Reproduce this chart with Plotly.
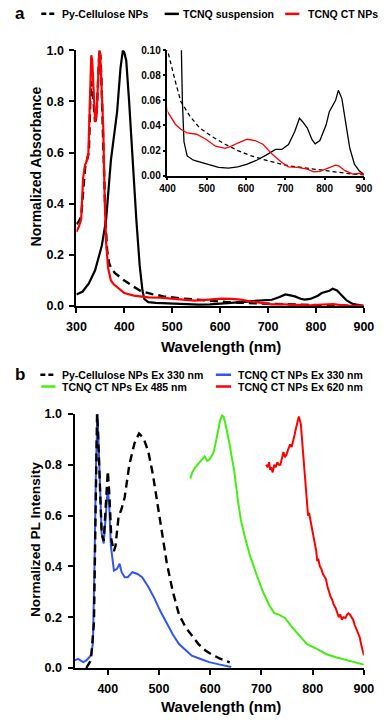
import plotly.graph_objects as go

W, H = 390, 723

# ---- panel a: absorbance ----
py_cell_wl = [300, 305, 310, 314, 318, 322, 326, 329, 331, 333, 336, 339, 342, 345, 348, 350,
              352, 355, 358, 361, 364, 368, 372, 380, 390, 400, 420, 434, 458, 482, 514, 547,
              579, 611, 643, 676, 708, 740, 772, 804, 836, 869, 893, 900]
py_cell_abs = [0.32, 0.33, 0.35, 0.45, 0.54, 0.57, 0.60, 0.80, 0.88, 0.86, 0.77, 0.72, 0.74, 0.90, 1.00, 0.98,
               0.90, 0.70, 0.50, 0.32, 0.22, 0.17, 0.15, 0.13, 0.115, 0.100, 0.075, 0.059, 0.047, 0.038, 0.031, 0.025,
               0.020, 0.016, 0.013, 0.0105, 0.0078, 0.0066, 0.0052, 0.0039, 0.0027, 0.0013, 0.0008, 0.0005]

tcnq_wl = [300, 313, 326, 339, 353, 362, 372, 379, 385, 392, 397, 400, 404, 410, 418, 425,
           432, 436, 438, 442, 450, 466, 498, 530, 555, 579, 603, 627, 651, 667, 675, 691,
           708, 724, 736, 744, 756, 768, 776, 788, 804, 812, 828, 835, 844, 852, 864, 876, 888, 899]
tcnq_abs = [0.045, 0.057, 0.089, 0.14, 0.236, 0.338, 0.57, 0.68, 0.76, 0.93, 1.00, 0.99, 0.96, 0.80, 0.54, 0.34,
            0.16, 0.09, 0.059, 0.027, 0.0157, 0.0123, 0.0092, 0.0066, 0.006, 0.007, 0.0092, 0.0123, 0.0164, 0.0196, 0.0209, 0.0209,
            0.0248, 0.0352, 0.0457, 0.043, 0.0379, 0.0287, 0.0254, 0.028, 0.0405, 0.051, 0.060, 0.068, 0.0614, 0.0457, 0.0222, 0.0092, 0.0039, 0.0013]

ct_wl = [300, 305, 310, 314, 318, 322, 325, 328, 331, 333, 336, 339, 342, 345, 348, 350,
         353, 356, 359, 362, 366, 369, 372, 378, 389, 400, 420, 434, 450, 474, 498, 522,
         547, 563, 579, 603, 623, 643, 667, 691, 708, 732, 756, 772, 788, 804, 828, 836,
         852, 872, 892, 900]
ct_abs = [0.29, 0.31, 0.34, 0.50, 0.55, 0.57, 0.60, 0.85, 0.98, 0.96, 0.80, 0.72, 0.74, 0.90, 1.00, 0.97,
          0.85, 0.70, 0.42, 0.25, 0.15, 0.12, 0.10, 0.085, 0.068, 0.051, 0.041, 0.037, 0.034, 0.033, 0.029, 0.0235,
          0.0217, 0.0235, 0.026, 0.029, 0.028, 0.025, 0.017, 0.0105, 0.007, 0.0066, 0.0052, 0.0031, 0.0034, 0.0052, 0.0084, 0.0078,
          0.004, 0.0013, 0.0019, 0.0008]

# ---- panel b: photoluminescence ----
pl_py_wl = [358, 367, 373, 376, 379, 381, 384, 388, 392, 397, 400, 403, 407, 412, 415, 421,
            427, 433, 442, 452, 461, 470, 479, 488, 497, 506, 515, 527, 539, 552, 564, 577,
            590, 603, 618, 632, 638]
pl_py = [0.0, 0.03, 0.18, 0.6, 1.0, 0.92, 0.76, 0.53, 0.50, 0.70, 0.775, 0.685, 0.505, 0.46, 0.48, 0.595,
         0.627, 0.672, 0.80, 0.884, 0.923, 0.904, 0.852, 0.762, 0.647, 0.53, 0.415, 0.30, 0.21, 0.16, 0.13, 0.094,
         0.07, 0.053, 0.038, 0.026, 0.022]

pl_330_wl = [335, 342, 348, 352, 358, 364, 368, 371, 374, 377, 380, 382, 384, 388, 392, 397,
             400, 403, 406, 412, 418, 423, 427, 433, 439, 448, 458, 467, 479, 491, 503, 515,
             527, 539, 552, 564, 580, 598, 617, 630, 641]
pl_330 = [0.03, 0.036, 0.028, 0.023, 0.03, 0.042, 0.055, 0.1, 0.4, 0.8, 1.0, 0.9, 0.76, 0.53, 0.49, 0.63,
          0.71, 0.63, 0.48, 0.383, 0.39, 0.41, 0.377, 0.357, 0.357, 0.377, 0.37, 0.357, 0.32, 0.274, 0.222, 0.177,
          0.132, 0.094, 0.068, 0.048, 0.036, 0.023, 0.014, 0.008, 0.004]

pl_485_wl = [561, 565, 570, 575, 580, 585, 589, 594, 598, 603, 607, 612, 617, 620, 623, 626,
             629, 633, 638, 642, 647, 654, 660, 669, 678, 691, 703, 715, 725, 734, 746, 758,
             774, 789, 808, 826, 845, 864, 882, 900]
pl_485 = [0.745, 0.77, 0.788, 0.80, 0.81, 0.82, 0.833, 0.815, 0.82, 0.835, 0.852, 0.90, 0.955, 0.98, 0.994, 0.99,
          0.968, 0.93, 0.878, 0.83, 0.775, 0.66, 0.58, 0.505, 0.44, 0.364, 0.30, 0.248, 0.216, 0.21, 0.197, 0.165,
          0.126, 0.094, 0.075, 0.055, 0.042, 0.032, 0.023, 0.013]

pl_620_wl = [709, 712, 715, 717, 719, 722, 725, 728, 731, 734, 737, 740, 743, 746, 749, 752,
             756, 759, 762, 765, 767, 770, 773, 775, 777, 780, 782, 784, 786, 789, 791, 793,
             796, 798, 801, 804, 807, 809, 811, 814, 817, 820, 823, 826, 829, 832, 835, 838,
             841, 845, 848, 851, 854, 857, 860, 864, 867, 870, 873, 876, 879, 882, 885, 888,
             892, 895, 898, 900]
pl_620 = [0.80, 0.79, 0.81, 0.78, 0.79, 0.77, 0.80, 0.79, 0.81, 0.80, 0.80, 0.83, 0.85, 0.83, 0.84, 0.86,
          0.88, 0.87, 0.89, 0.92, 0.94, 0.97, 0.99, 0.975, 0.96, 0.88, 0.83, 0.76, 0.72, 0.66, 0.60, 0.61,
          0.58, 0.56, 0.52, 0.50, 0.46, 0.42, 0.43, 0.40, 0.39, 0.37, 0.36, 0.35, 0.32, 0.30, 0.28, 0.27,
          0.25, 0.235, 0.22, 0.20, 0.21, 0.19, 0.20, 0.197, 0.21, 0.215, 0.21, 0.20, 0.19, 0.17, 0.155, 0.14,
          0.12, 0.09, 0.065, 0.05]

BLACK = "#000000"
RED = "#FF0000"
BLUE = "#3355EE"
GREEN = "#44EE11"
FONT = "Liberation Sans, Arial, sans-serif"


def px(x):
    return x / W


def py(y):
    return 1 - y / H


fig = go.Figure()

# panel a main
fig.add_trace(go.Scatter(x=py_cell_wl, y=py_cell_abs, mode="lines", xaxis="x", yaxis="y",
                         line=dict(color=BLACK, width=2.4, dash="8px,5px")))
fig.add_trace(go.Scatter(x=tcnq_wl, y=tcnq_abs, mode="lines", xaxis="x", yaxis="y",
                         line=dict(color=BLACK, width=2.2)))
fig.add_trace(go.Scatter(x=ct_wl, y=ct_abs, mode="lines", xaxis="x", yaxis="y",
                         line=dict(color=RED, width=2.2)))
# panel a inset
fig.add_trace(go.Scatter(x=py_cell_wl, y=py_cell_abs, mode="lines", xaxis="x2", yaxis="y2",
                         line=dict(color=BLACK, width=1.3, dash="4px,3px")))
fig.add_trace(go.Scatter(x=tcnq_wl, y=tcnq_abs, mode="lines", xaxis="x2", yaxis="y2",
                         line=dict(color=BLACK, width=1.3)))
fig.add_trace(go.Scatter(x=ct_wl, y=ct_abs, mode="lines", xaxis="x2", yaxis="y2",
                         line=dict(color=RED, width=1.3)))
# panel b
fig.add_trace(go.Scatter(x=pl_330_wl, y=pl_330, mode="lines", xaxis="x3", yaxis="y3",
                         line=dict(color=BLUE, width=2)))
fig.add_trace(go.Scatter(x=pl_py_wl, y=pl_py, mode="lines", xaxis="x3", yaxis="y3",
                         line=dict(color=BLACK, width=2.4, dash="8px,5px")))
fig.add_trace(go.Scatter(x=pl_485_wl, y=pl_485, mode="lines", xaxis="x3", yaxis="y3",
                         line=dict(color=GREEN, width=2)))
fig.add_trace(go.Scatter(x=pl_620_wl, y=pl_620, mode="lines", xaxis="x3", yaxis="y3",
                         line=dict(color=RED, width=2)))

main_axis = dict(showline=True, linecolor=BLACK, linewidth=2, ticks="outside", ticklen=5,
                 tickwidth=2, tickcolor=BLACK, showgrid=False, zeroline=False,
                 tickfont=dict(family=FONT, size=12.5, color=BLACK, weight="bold"))
inset_axis = dict(showline=True, linecolor=BLACK, linewidth=1.5, ticks="outside", ticklen=3,
                  tickwidth=1.5, tickcolor=BLACK, showgrid=False, zeroline=False,
                  tickfont=dict(family=FONT, size=10, color=BLACK, weight="bold"))

fig.update_layout(
    width=W, height=H, showlegend=False,
    margin=dict(l=0, r=0, t=0, b=0),
    paper_bgcolor="white", plot_bgcolor="rgba(0,0,0,0)",
    xaxis=dict(main_axis, domain=[px(70), px(373)], range=[300, 900], dtick=100, anchor="y",
               ticklabelstandoff=3),
    yaxis=dict(main_axis, domain=[py(305), py(44)], range=[0, 1], dtick=0.2, tickformat=".1f", anchor="x",
               ticklabelstandoff=3),
    xaxis2=dict(inset_axis, domain=[px(166), px(373)], range=[400, 900], dtick=100, anchor="y2"),
    yaxis2=dict(inset_axis, domain=[py(172), py(44)], range=[0, 0.1], dtick=0.02, tickformat=".2f", anchor="x2"),
    xaxis3=dict(main_axis, domain=[px(68), px(373)], range=[335, 900], tick0=400, dtick=100, anchor="y3",
                ticklabelstandoff=3),
    yaxis3=dict(main_axis, domain=[py(674), py(415)], range=[0, 1], dtick=0.2, tickformat=".1f", anchor="x3",
                ticklabelstandoff=3),
)

# text labels: panel letters, axis titles
texts = [
    ("a", 3, 7, 17, 0), ("b", 3, 375, 17, 0),
    ("Normalized Absorbance", 27, 163, 14, -90),
    ("Wavelength (nm)", 222, 346, 15, 0),
    ("Normalized PL Intensity", 27, 543, 13.7, -90),
    ("Wavelength (nm)", 222, 713, 15, 0),
]
for txt, x, y, size, ang in texts:
    fig.add_annotation(text=txt, x=px(x), y=py(y), xref="paper", yref="paper",
                       xanchor="left" if len(txt) == 1 else "center", yanchor="middle",
                       textangle=ang, showarrow=False,
                       font=dict(family=FONT, size=size, color=BLACK, weight="bold"))

# legend keys drawn by hand, laid out as in the figure
legend_items = [
    ("Py-Cellulose NPs", BLACK, "dash", 33, 48, 53, 7),
    ("TCNQ suspension", BLACK, "solid", 163, 178, 180, 7),
    ("TCNQ CT NPs", RED, "solid", 290, 305, 312, 7),
    ("Py-Cellulose NPs Ex 330 nm", BLACK, "dash", 32, 47, 53, 375),
    ("TCNQ CT NPs Ex 330 nm", BLUE, "solid", 217, 233, 238, 375),
    ("TCNQ CT NPs Ex 485 nm", GREEN, "solid", 33, 48, 53, 387),
    ("TCNQ CT NPs Ex 620 nm", RED, "solid", 217, 233, 238, 387),
]
for label, color, dash, x0, x1, xt, y in legend_items:
    fig.add_shape(type="line", xref="paper", yref="paper", x0=px(x0), x1=px(x1), y0=py(y), y1=py(y),
                  line=dict(color=color, width=2.5, dash="5px,3px" if dash == "dash" else "solid"))
    fig.add_annotation(text=label, x=px(xt), y=py(y), xref="paper", yref="paper",
                       xanchor="left", yanchor="middle", showarrow=False,
                       font=dict(family=FONT, size=10.5, color=BLACK, weight="bold"))

fig.write_html("out.html", config={"displayModeBar": False},
               post_script="document.body.style.margin='0';")
